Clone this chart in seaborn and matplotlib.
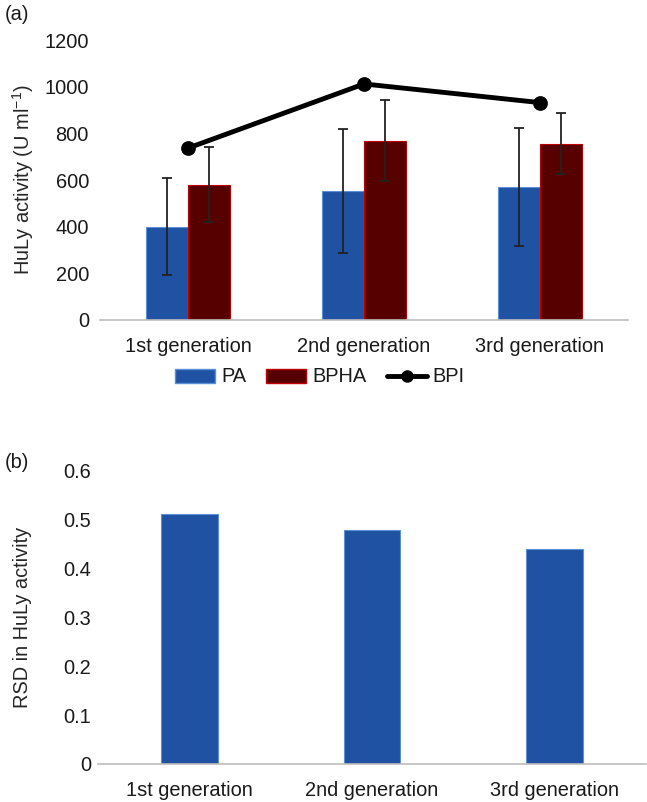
import matplotlib
matplotlib.use("Agg")
import matplotlib.pyplot as plt
from matplotlib.patches import Patch
from matplotlib.lines import Line2D
from matplotlib.ticker import FuncFormatter
import pandas as pd
import seaborn as sns

# ---------------------------------------------------------------------
# Data
# ---------------------------------------------------------------------
generations = ["1st generation", "2nd generation", "3rd generation"]
pa = [400, 552, 570]
pa_err = [208, 265, 252]
bpha = [580, 768, 756]
bpha_err = [161, 174, 130]
bpi = [737, 1012, 932]
rsd = [0.512, 0.479, 0.440]

BLUE = "#1f52a3"
BLUE_EDGE = "#5b8fd6"
RED = "#560000"
RED_EDGE = "#c00000"
FS = 14.4

sns.set_style("white")
plt.rcParams["font.family"] = ["Liberation Sans", "DejaVu Sans"]
plt.rcParams["mathtext.default"] = "regular"
plt.rcParams["text.color"] = "#1a1a1a"

fig = plt.figure(figsize=(6.47, 8.02), dpi=100)
ax1 = fig.add_axes([0.1546, 0.601, 0.816, 0.349])
ax2 = fig.add_axes([0.1515, 0.0474, 0.8465, 0.3656])

# ---------------------------------------------------------------------
# (a) HuLy activity
# ---------------------------------------------------------------------
df = pd.DataFrame({
    "generation": generations * 2,
    "value": pa + bpha,
    "series": ["PA"] * 3 + ["BPHA"] * 3,
})
sns.barplot(data=df, x="generation", y="value", hue="series",
            hue_order=["PA", "BPHA"], palette=[BLUE, RED], saturation=1,
            width=0.48, errorbar=None, legend=False, ax=ax1)

for cont, errs, edge in zip(ax1.containers, [pa_err, bpha_err], [BLUE_EDGE, RED_EDGE]):
    xs, hs = [], []
    for bar in cont:
        bar.set_edgecolor(edge)
        bar.set_linewidth(0.8)
        xs.append(bar.get_x() + bar.get_width() / 2)
        hs.append(bar.get_height())
    ax1.errorbar(xs, hs, yerr=errs, fmt="none", ecolor="#222222",
                 elinewidth=1.3, capsize=3.5, capthick=1.3, zorder=4)

sns.pointplot(x=generations, y=bpi, color="black", markers="o",
              linestyles="-", linewidth=3.5, markersize=8, ax=ax1, zorder=5)

ax1.set_xlim(-0.5, 2.5)
ax1.set_ylim(0, 1200)
ax1.set_yticks(range(0, 1201, 200))
ax1.set_xlabel("")
ax1.set_ylabel("HuLy activity (U ml$^{-1}$)", fontsize=FS)
ax1.yaxis.set_label_coords(-0.122, 0.5)

handles = [
    Patch(facecolor=BLUE, edgecolor=BLUE_EDGE, label="PA"),
    Patch(facecolor=RED, edgecolor=RED_EDGE, label="BPHA"),
    Line2D([0], [0], color="black", lw=3.5, marker="o", ms=8, label="BPI"),
]
fig.legend(handles=handles, loc="center", ncol=3, frameon=False,
           bbox_to_anchor=(320 / 647, 1 - 377 / 802), fontsize=FS,
           handlelength=2.0, handleheight=0.7, columnspacing=1.0,
           handletextpad=0.3)

# ---------------------------------------------------------------------
# (b) RSD
# ---------------------------------------------------------------------
sns.barplot(x=generations, y=rsd, color=BLUE, saturation=1, width=0.31,
            edgecolor=BLUE_EDGE, linewidth=0.8, ax=ax2)
ax2.set_xlim(-0.5, 2.5)
ax2.set_ylim(0, 0.6)
ax2.set_yticks([i / 10 for i in range(7)])
ax2.yaxis.set_major_formatter(FuncFormatter(lambda v, _: f"{v:g}"))
ax2.set_ylabel("RSD in HuLy activity", fontsize=FS)
ax2.yaxis.set_label_coords(-0.12, 0.5)

for ax, ypad in [(ax1, 8), (ax2, 5)]:
    for side in ["left", "right", "top"]:
        ax.spines[side].set_visible(False)
    ax.spines["bottom"].set_color("#bdbdbd")
    ax.spines["bottom"].set_linewidth(1.2)
    ax.tick_params(axis="y", length=0, pad=ypad, labelsize=FS, labelcolor="#1a1a1a")
    ax.tick_params(axis="x", length=0, pad=12, labelsize=FS, labelcolor="#1a1a1a")
    ax.grid(False)

fig.text(5 / 647, 1 - 15 / 802, "(a)", fontsize=FS, va="center", ha="left")
fig.text(5 / 647, 1 - 462 / 802, "(b)", fontsize=FS, va="center", ha="left")

fig.savefig("out.png", dpi=100)
